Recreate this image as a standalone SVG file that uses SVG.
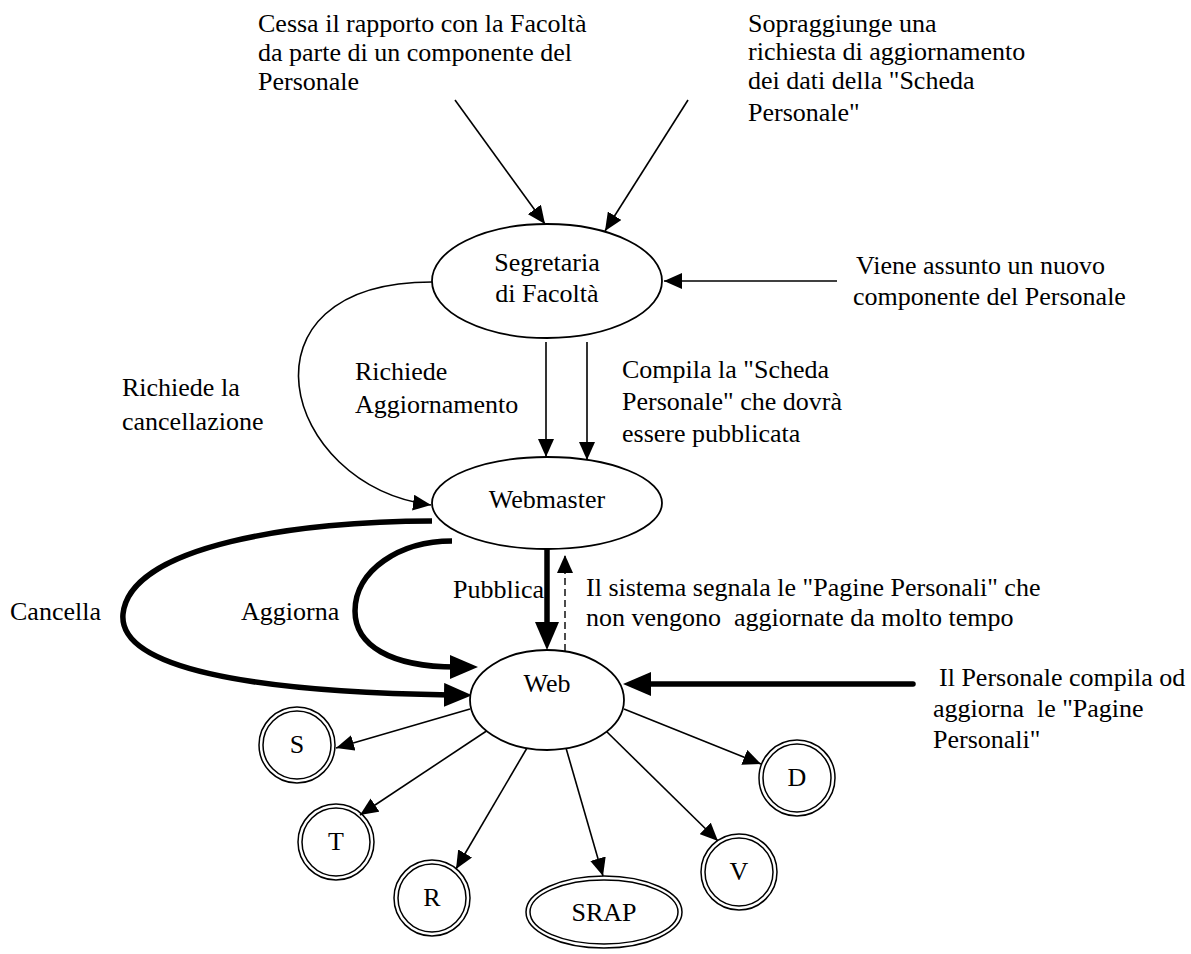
<svg xmlns="http://www.w3.org/2000/svg" width="1191" height="954" viewBox="0 0 1191 954">
  <style>
    text { font-family: "Liberation Serif", "Times New Roman", serif; font-size: 26px; fill: #000; white-space: pre; }
    .mid { text-anchor: middle; }
    .node { fill: #fff; stroke: #000; stroke-width: 1.8; }
    .ring { fill: none; stroke: #000; stroke-width: 1.5; }
    .thin { fill: none; stroke: #000; stroke-width: 1.6; marker-end: url(#head); }
    .dash { fill: none; stroke: #000; stroke-width: 1.4; stroke-dasharray: 7 4; marker-end: url(#head); }
    .thick { fill: none; stroke: #000; stroke-width: 5.5; marker-end: url(#bighead); }
  </style>
  <defs>
    <!-- plain arrowhead, tip on the path end -->
    <marker id="head" markerUnits="userSpaceOnUse" viewBox="0 0 18 16" markerWidth="18" markerHeight="16" refX="18" refY="8" orient="auto">
      <path d="M0,0 L18,8 L0,16 Z" fill="#000"/>
    </marker>
    <!-- heavy arrowhead, tip 22px past the path end -->
    <marker id="bighead" markerUnits="userSpaceOnUse" viewBox="0 0 28 24" markerWidth="28" markerHeight="24" refX="6" refY="12" orient="auto">
      <path d="M0,0 L28,12 L0,24 Z" fill="#000"/>
    </marker>
  </defs>

  <rect width="1191" height="954" fill="#fff"/>

  <!-- free-standing event captions -->
  <g id="captions">
    <text x="258" y="32">Cessa il rapporto con la Facoltà</text>
    <text x="258" y="61">da parte di un componente del</text>
    <text x="258" y="90">Personale</text>

    <text x="748" y="32">Sopraggiunge una</text>
    <text x="748" y="60">richiesta di aggiornamento</text>
    <text x="748" y="89">dei dati della "Scheda</text>
    <text x="748" y="121">Personale"</text>

    <text x="856" y="274">Viene assunto un nuovo</text>
    <text x="853" y="305">componente del Personale</text>

    <text x="122" y="396">Richiede la</text>
    <text x="122" y="430">cancellazione</text>

    <text x="355" y="380">Richiede</text>
    <text x="355" y="413">Aggiornamento</text>

    <text x="622" y="378">Compila la "Scheda</text>
    <text x="622" y="410">Personale" che dovrà</text>
    <text x="622" y="442">essere pubblicata</text>

    <text x="453" y="598">Pubblica</text>
    <text x="10" y="620">Cancella</text>
    <text x="241" y="620">Aggiorna</text>

    <text x="586" y="596">Il sistema segnala le "Pagine Personali" che</text>
    <text x="586" y="626">non vengono  aggiornate da molto tempo</text>

    <text x="939" y="686">Il Personale compila od</text>
    <text x="933" y="717">aggiorna  le "Pagine</text>
    <text x="933" y="748">Personali"</text>
  </g>

  <!-- connectors -->
  <g id="connectors">
    <path class="thin" d="M455,100 L545,224"/>
    <path class="thin" d="M688,100 L605,231"/>
    <path class="thin" d="M837,281 L664,281"/>
    <path class="thin" d="M432,282 C230,282 280,485 431,505"/>
    <path class="thin" d="M546,342 L546,457"/>
    <path class="thin" d="M587,342 L587,460"/>

    <path class="thick" d="M432,521 C300,521 130,545 123,614 C118,668 250,692 450,695"/>
    <path class="thick" d="M452,541 C400,541 355,570 355,611 C355,645 390,667 456,667"/>
    <path class="thick" d="M547,549 L547,628"/>
    <path class="dash" d="M565,651 L565,555"/>
    <path class="thick" stroke-linecap="round" d="M913,684 L645,684"/>

    <path class="thin" d="M470,709 L336,748"/>
    <path class="thin" d="M488,730 L360,815"/>
    <path class="thin" d="M527,748 L456,869"/>
    <path class="thin" d="M566,748 L603,876"/>
    <path class="thin" d="M605,730 L718,841"/>
    <path class="thin" d="M624,709 L761,764"/>
  </g>

  <g id="segretaria">
    <ellipse class="node" cx="547" cy="281" rx="115" ry="57"/>
    <text class="mid" x="547" y="271">Segretaria</text>
    <text class="mid" x="547" y="302">di Facoltà</text>
  </g>

  <g id="webmaster">
    <ellipse class="node" cx="547" cy="503" rx="115" ry="46"/>
    <text class="mid" x="547" y="508">Webmaster</text>
  </g>

  <g id="web">
    <ellipse class="node" cx="547" cy="700" rx="77" ry="50"/>
    <text class="mid" x="547" y="692">Web</text>
  </g>

  <g id="node-s">
    <circle class="ring" cx="297" cy="745" r="38"/>
    <circle class="ring" cx="297" cy="745" r="34"/>
    <text class="mid" x="297" y="753">S</text>
  </g>

  <g id="node-t">
    <circle class="ring" cx="336" cy="842" r="38"/>
    <circle class="ring" cx="336" cy="842" r="34"/>
    <text class="mid" x="336" y="850">T</text>
  </g>

  <g id="node-r">
    <circle class="ring" cx="432" cy="898" r="38"/>
    <circle class="ring" cx="432" cy="898" r="34"/>
    <text class="mid" x="432" y="906">R</text>
  </g>

  <g id="node-srap">
    <ellipse class="ring" cx="604" cy="912" rx="78" ry="36"/>
    <ellipse class="ring" cx="604" cy="912" rx="74" ry="32"/>
    <text class="mid" x="604" y="921">SRAP</text>
  </g>

  <g id="node-v">
    <circle class="ring" cx="739" cy="872" r="38"/>
    <circle class="ring" cx="739" cy="872" r="34"/>
    <text class="mid" x="739" y="880">V</text>
  </g>

  <g id="node-d">
    <circle class="ring" cx="797" cy="778" r="38"/>
    <circle class="ring" cx="797" cy="778" r="34"/>
    <text class="mid" x="797" y="786">D</text>
  </g>
</svg>
